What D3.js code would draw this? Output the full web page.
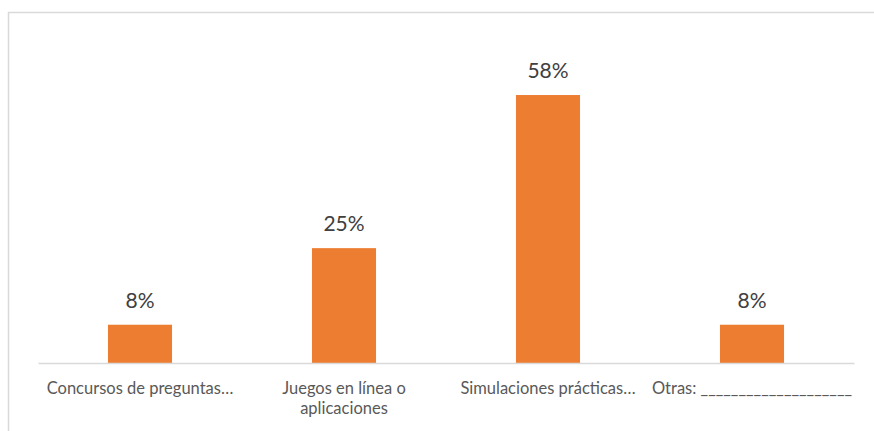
<html>
  <head>
    <script src="https://d3js.org/d3.v7.min.js"></script>
    <style>
      body { margin: 0; background: #fff; }
    </style>
  </head>
  <body>
    <svg width="874" height="431" id="chart"></svg>
  </body>

  <script type="text/javascript">
    // data
    var categories = ["Concursos de preguntas…", "Juegos en línea o aplicaciones", "Simulaciones prácticas…", "Otras: ____________________"];
    var labelLines = [["Concursos de preguntas…"], ["Juegos en línea o", "aplicaciones"], ["Simulaciones prácticas…"], ["Otras: ____________________"]];
    var values = [8.33, 25, 58.33, 8.33];
    var valueLabels = ["8%", "25%", "58%", "8%"];

    var svg = d3.select("#chart");

    // chart frame (only top and left edges visible)
    svg.append("path")
      .attr("d", "M8.5,431 L8.5,12.5 L874,12.5")
      .attr("fill", "none")
      .attr("stroke", "#d9d9d9")
      .attr("stroke-width", 1.5);

    var x = d3.scaleBand()
      .domain(categories)
      .range([38, 854])
      .paddingInner(0.686)
      .paddingOuter(0.343);

    var y = d3.scaleLinear()
      .domain([0, 70])
      .range([363, 363 - 70 * 4.594]);

    svg.selectAll("rect.bar")
      .data(values)
      .enter().append("rect")
      .attr("class", "bar")
      .attr("x", function(d, i){ return x(categories[i]); })
      .attr("y", function(d){ return y(d); })
      .attr("width", x.bandwidth())
      .attr("height", function(d){ return y(0) - y(d); })
      .attr("fill", "#ed7d31");

    // value labels
    svg.selectAll("text.val")
      .data(values)
      .enter().append("text")
      .attr("class", "val")
      .attr("x", function(d, i){ return x(categories[i]) + x.bandwidth() / 2; })
      .attr("y", function(d){ return y(d) - 17; })
      .attr("text-anchor", "middle")
      .attr("font-family", "Lato")
      .attr("font-size", 21)
      .attr("fill", "#404040")
      .text(function(d, i){ return valueLabels[i]; });

    // x axis
    var axis = svg.append("g")
      .attr("transform", "translate(0," + y(0) + ")")
      .call(d3.axisBottom(x).tickSize(0).tickFormat(""));
    axis.select(".domain").attr("stroke", "#d9d9d9").attr("stroke-width", 1.5);

    var lbl = svg.selectAll("text.cat")
      .data(categories)
      .enter().append("text")
      .attr("class", "cat")
      .attr("x", function(d){ return x(d) + x.bandwidth() / 2; })
      .attr("y", 394)
      .attr("text-anchor", "middle")
      .attr("font-family", "Lato")
      .attr("font-size", 16.5)
      .attr("fill", "#595959");

    lbl.each(function(d, i){
      var t = d3.select(this);
      labelLines[i].forEach(function(line, j){
        t.append("tspan")
          .attr("x", x(d) + x.bandwidth() / 2)
          .attr("dy", j === 0 ? 0 : 19.5)
          .text(line);
      });
    });
  </script>
</html>
